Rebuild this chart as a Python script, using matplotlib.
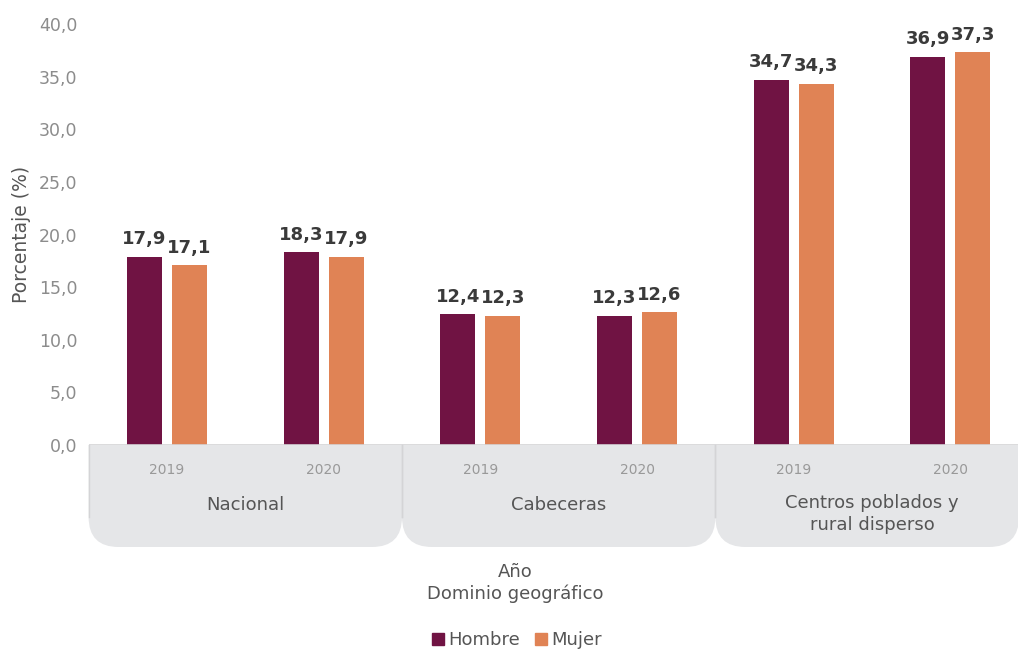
import matplotlib.pyplot as plt
from matplotlib.patches import PathPatch, Patch
from matplotlib.path import Path
from matplotlib.transforms import blended_transform_factory
import numpy as np

years = ['2019', '2020', '2019', '2020', '2019', '2020']
groups = ['Nacional', 'Cabeceras', 'Centros poblados y\nrural disperso']
hombre = [17.9, 18.3, 12.4, 12.3, 34.7, 36.9]
mujer = [17.1, 17.9, 12.3, 12.6, 34.3, 37.3]

c_h = '#701343'
c_m = '#e08355'
panel = '#e5e6e8'

plt.rcParams['font.family'] = 'sans-serif'
plt.rcParams['font.sans-serif'] = ['DejaVu Sans']

fig = plt.figure(figsize=(10.18, 6.5), dpi=100)
ax = fig.add_axes([88.6 / 1018, 205 / 650, (1018 - 88.6) / 1018, 421 / 650])
ax.patch.set_visible(False)

x = np.arange(len(years))
w = 0.223
off = 0.1436
b1 = ax.bar(x - off, hombre, w, color=c_h, label='Hombre', zorder=3)
b2 = ax.bar(x + off, mujer, w, color=c_m, label='Mujer', zorder=3)

fmt = lambda v: f'{v:.1f}'.replace('.', ',')
for bars, vals in ((b1, hombre), (b2, mujer)):
    for r, v in zip(bars, vals):
        ax.annotate(fmt(v), (r.get_x() + r.get_width() / 2, v), xytext=(0, 9),
                    textcoords='offset points', ha='center', va='baseline',
                    fontsize=13, fontweight='bold', color='#3a3a3a')

ax.set_ylim(0, 40)
ax.set_xlim(-0.5, -0.5 + 929.4 / 156.7)
ax.set_yticks(np.arange(0, 41, 5))
ax.set_yticklabels([fmt(v) for v in np.arange(0, 41, 5)])
ax.tick_params(axis='y', length=0, labelsize=12.5, labelcolor='#8c8c8c', pad=8)
ax.set_xticks([])
for s in ax.spines.values():
    s.set_visible(False)
ax.set_ylabel('Porcentaje (%)', fontsize=13.5, color='#555555', labelpad=6)

# grey group panels under the axis, rounded at the bottom
fig.canvas.draw()
to_px = ax.transData
h_px = 102
rad = 30
for g in range(3):
    x0, y0 = to_px.transform((2 * g - 0.5, 0))
    x1 = min(to_px.transform((2 * g + 1.5, 0))[0], 1019)
    yb = y0 - h_px
    verts = [(x0, y0), (x1, y0), (x1, yb + rad), (x1, yb), (x1 - rad, yb),
             (x0 + rad, yb), (x0, yb), (x0, yb + rad), (x0, y0)]
    codes = [Path.MOVETO, Path.LINETO, Path.LINETO, Path.CURVE3, Path.CURVE3,
             Path.LINETO, Path.CURVE3, Path.CURVE3, Path.CLOSEPOLY]
    fig.patches.append(PathPatch(Path(verts, codes), facecolor=panel,
                                 edgecolor='none', transform=None, zorder=-2))
    for xe in (x0, x1):
        fig.lines.append(plt.Line2D([xe, xe], [y0, yb + rad], color='#d4d4d6',
                                    lw=1, transform=None, zorder=-1))

ax.axhline(0, color='#d4d4d6', lw=1.2, zorder=4)

tr = blended_transform_factory(ax.transData, ax.transAxes)
for i, y in enumerate(years):
    ax.text(i, -25 / 421, y, transform=tr, ha='center', va='center',
            fontsize=10, color='#999999')
for g, name in enumerate(groups):
    yy = -60 / 421 if '\n' not in name else -69 / 421
    ax.text(2 * g + 0.5, yy, name, transform=tr, ha='center', va='center',
            fontsize=13, color='#555555', linespacing=1.25)

fig.text(515 / 1018, 1 - 583 / 650, 'Año\nDominio geográfico', ha='center',
         va='center', fontsize=13, color='#555555', linespacing=1.2)

handles = [Patch(color=c_h, label='Hombre'), Patch(color=c_m, label='Mujer')]
fig.legend(handles=handles, loc='center', bbox_to_anchor=(517 / 1018, 1 - 640 / 650),
           ncol=2, frameon=False, fontsize=13, handlelength=0.65, handleheight=0.65,
           handletextpad=0.25, columnspacing=0.8, labelcolor='#555555')

fig.savefig('out.png', dpi=100)
